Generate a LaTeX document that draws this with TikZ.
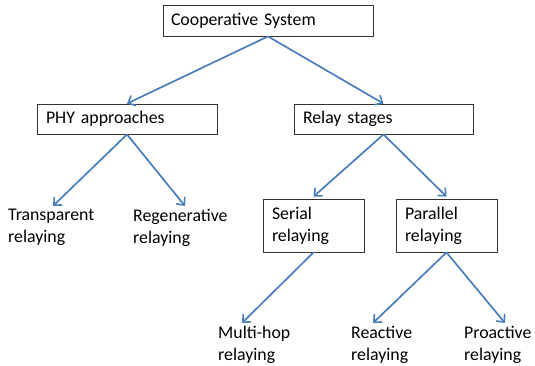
\documentclass[tikz,border=0pt]{standalone}
\usepackage{fontspec}
\setmainfont{Carlito}
\usepackage{tikz}
\usepackage{xcolor}
\usetikzlibrary{arrows.meta}
\usetikzlibrary{positioning}

\definecolor{linkblue}{RGB}{74,126,187}

\begin{document}
\begin{tikzpicture}[x=1pt,y=-1pt,
  font=\fontsize{17.8}{22}\selectfont,
  box/.style={draw=black!80,line width=0.8pt,rectangle,align=left,inner xsep=8pt,inner ysep=0pt},
  leaf/.style={align=left,inner sep=0pt,anchor=north west},
  link/.style={draw=linkblue,line width=1.7pt,-{Straight Barb[length=6pt,width=11pt,line width=1.6pt]}}]
\useasboundingbox (0,0) rectangle (535,365);
% boxes
\node[box,minimum width=210pt,minimum height=31pt,text width=194pt] (coop) at (268,20.5) {Cooperative System};
\node[box,minimum width=180pt,minimum height=30pt,text width=162pt,inner xsep=9pt] (phy) at (127,119) {PHY approaches};
\node[box,minimum width=179pt,minimum height=30pt,text width=161pt,inner xsep=9pt] (stages) at (383.5,119) {Relay stages};
\node[box,minimum width=101pt,minimum height=53pt,text width=83pt,inner xsep=9pt] (serial) at (313.5,225.5) {Serial\\relaying};
\node[box,minimum width=101pt,minimum height=53pt,text width=83pt,inner xsep=9pt] (parallel) at (446.5,225.5) {Parallel\\relaying};
% leaves
\node[leaf] (transp) at (8,209) {Transparent\\relaying};
\node[leaf] (regen) at (133,209) {Regenerative\\relaying};
\node[leaf] (multihop) at (218,326) {Multi-hop\\relaying};
\node[leaf] (reactive) at (351,326) {Reactive\\relaying};
\node[leaf] (proactive) at (464,326) {Proactive\\relaying};
% arrows
\draw[link] (coop.south) -- (phy.north);
\draw[link] (coop.south) -- (stages.north);
\draw[link] (phy.south) -- ([xshift=45pt,yshift=3pt]transp.north west);
\draw[link] (phy.south) -- ([xshift=52pt,yshift=3pt]regen.north west);
\draw[link] (stages.south) -- ([yshift=2pt]serial.north);
\draw[link] (stages.south) -- ([yshift=2pt]parallel.north);
\draw[link] (serial.south) -- ([xshift=24pt,yshift=3pt]multihop.north west);
\draw[link] (parallel.south) -- ([xshift=22pt,yshift=3pt]reactive.north west);
\draw[link] (parallel.south) -- ([xshift=41pt,yshift=3pt]proactive.north west);
\end{tikzpicture}
\end{document}
